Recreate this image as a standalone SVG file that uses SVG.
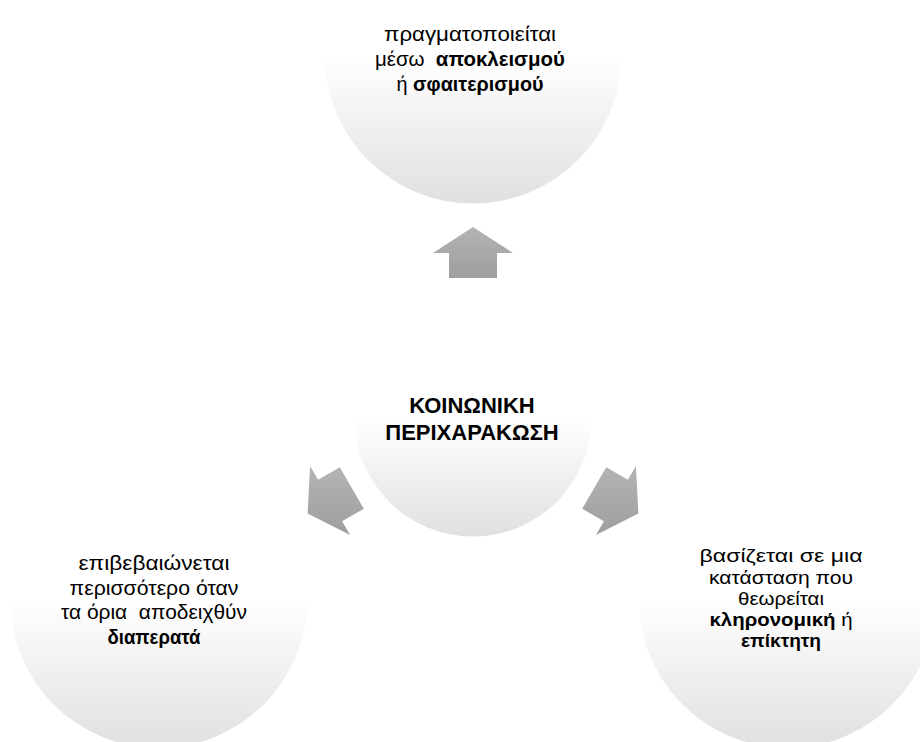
<svg xmlns="http://www.w3.org/2000/svg" width="920" height="742" viewBox="0 0 920 742">
  <defs>
    <linearGradient id="circleFill" x1="0" y1="0" x2="0" y2="1">
      <stop offset="0" stop-color="#ffffff"/>
      <stop offset="0.5" stop-color="#ffffff"/>
      <stop offset="1" stop-color="#e0e0e0"/>
    </linearGradient>
    <linearGradient id="arrowFill" x1="0" y1="0" x2="0" y2="1">
      <stop offset="0" stop-color="#b4b4b4"/>
      <stop offset="1" stop-color="#9e9e9e"/>
    </linearGradient>
    <style>
      .node { fill: url(#circleFill); }
      .arrow { fill: url(#arrowFill); }
      text { font-family: "Liberation Sans", Arial, sans-serif; font-size: 21px; fill: #000; text-anchor: middle; dominant-baseline: central; white-space: pre; }
      .sm { font-size: 18.5px; }
      .lg { font-size: 22px; }
      .b { font-weight: bold; }
    </style>
  </defs>

  <rect width="920" height="742" fill="#ffffff"/>

  <g id="node-top">
    <circle class="node" cx="473" cy="55" r="148.5"/>
    <text x="470" y="33" textLength="172" lengthAdjust="spacingAndGlyphs">πραγματοποιείται</text>
    <text x="470" y="58" textLength="190" lengthAdjust="spacingAndGlyphs">μέσω  <tspan class="b">αποκλεισμού</tspan></text>
    <text x="470" y="83" textLength="147" lengthAdjust="spacingAndGlyphs">ή <tspan class="b">σφαιτερισμού</tspan></text>
  </g>

  <g id="node-left">
    <circle class="node" cx="158.6" cy="599.5" r="148.5"/>
    <text x="154" y="562" textLength="151" lengthAdjust="spacingAndGlyphs">επιβεβαιώνεται</text>
    <text x="154" y="587" textLength="169" lengthAdjust="spacingAndGlyphs">περισσότερο όταν</text>
    <text x="154" y="611" textLength="186" lengthAdjust="spacingAndGlyphs">τα όρια  αποδειχθύν</text>
    <text x="154" y="636" class="b" textLength="93" lengthAdjust="spacingAndGlyphs">διαπερατά</text>
  </g>

  <g id="node-right">
    <circle class="node" cx="787.4" cy="599.5" r="148.5"/>
    <text class="sm" x="781" y="555" textLength="163" lengthAdjust="spacingAndGlyphs">βασίζεται σε μια</text>
    <text class="sm" x="781" y="577" textLength="144" lengthAdjust="spacingAndGlyphs">κατάσταση που</text>
    <text class="sm" x="781" y="598" textLength="86" lengthAdjust="spacingAndGlyphs">θεωρείται</text>
    <text class="sm" x="781" y="619" textLength="143" lengthAdjust="spacingAndGlyphs"><tspan class="b">κληρονομική</tspan> ή</text>
    <text class="sm b" x="781" y="640" textLength="80" lengthAdjust="spacingAndGlyphs">επίκτητη</text>
  </g>

  <g id="node-center">
    <circle class="node" cx="473" cy="418" r="118.5"/>
    <text x="472" y="405" class="lg b">ΚΟΙΝΩΝΙΚΗ</text>
    <text x="472" y="432" class="lg b">ΠΕΡΙΧΑΡΑΚΩΣΗ</text>
  </g>

  <g id="connectors">
    <polygon class="arrow" points="473,227 513,253 497,253 497,278 449,278 449,253 433,253"/>
    <polygon class="arrow" points="307.6,513.5 310.1,465.9 318.1,479.7 339.8,467.2 363.8,508.8 342.1,521.3 350.1,535.1"/>
    <polygon class="arrow" points="638.4,513.5 635.9,465.9 627.9,479.7 606.2,467.2 582.2,508.8 603.9,521.3 595.9,535.1"/>
  </g>
</svg>
